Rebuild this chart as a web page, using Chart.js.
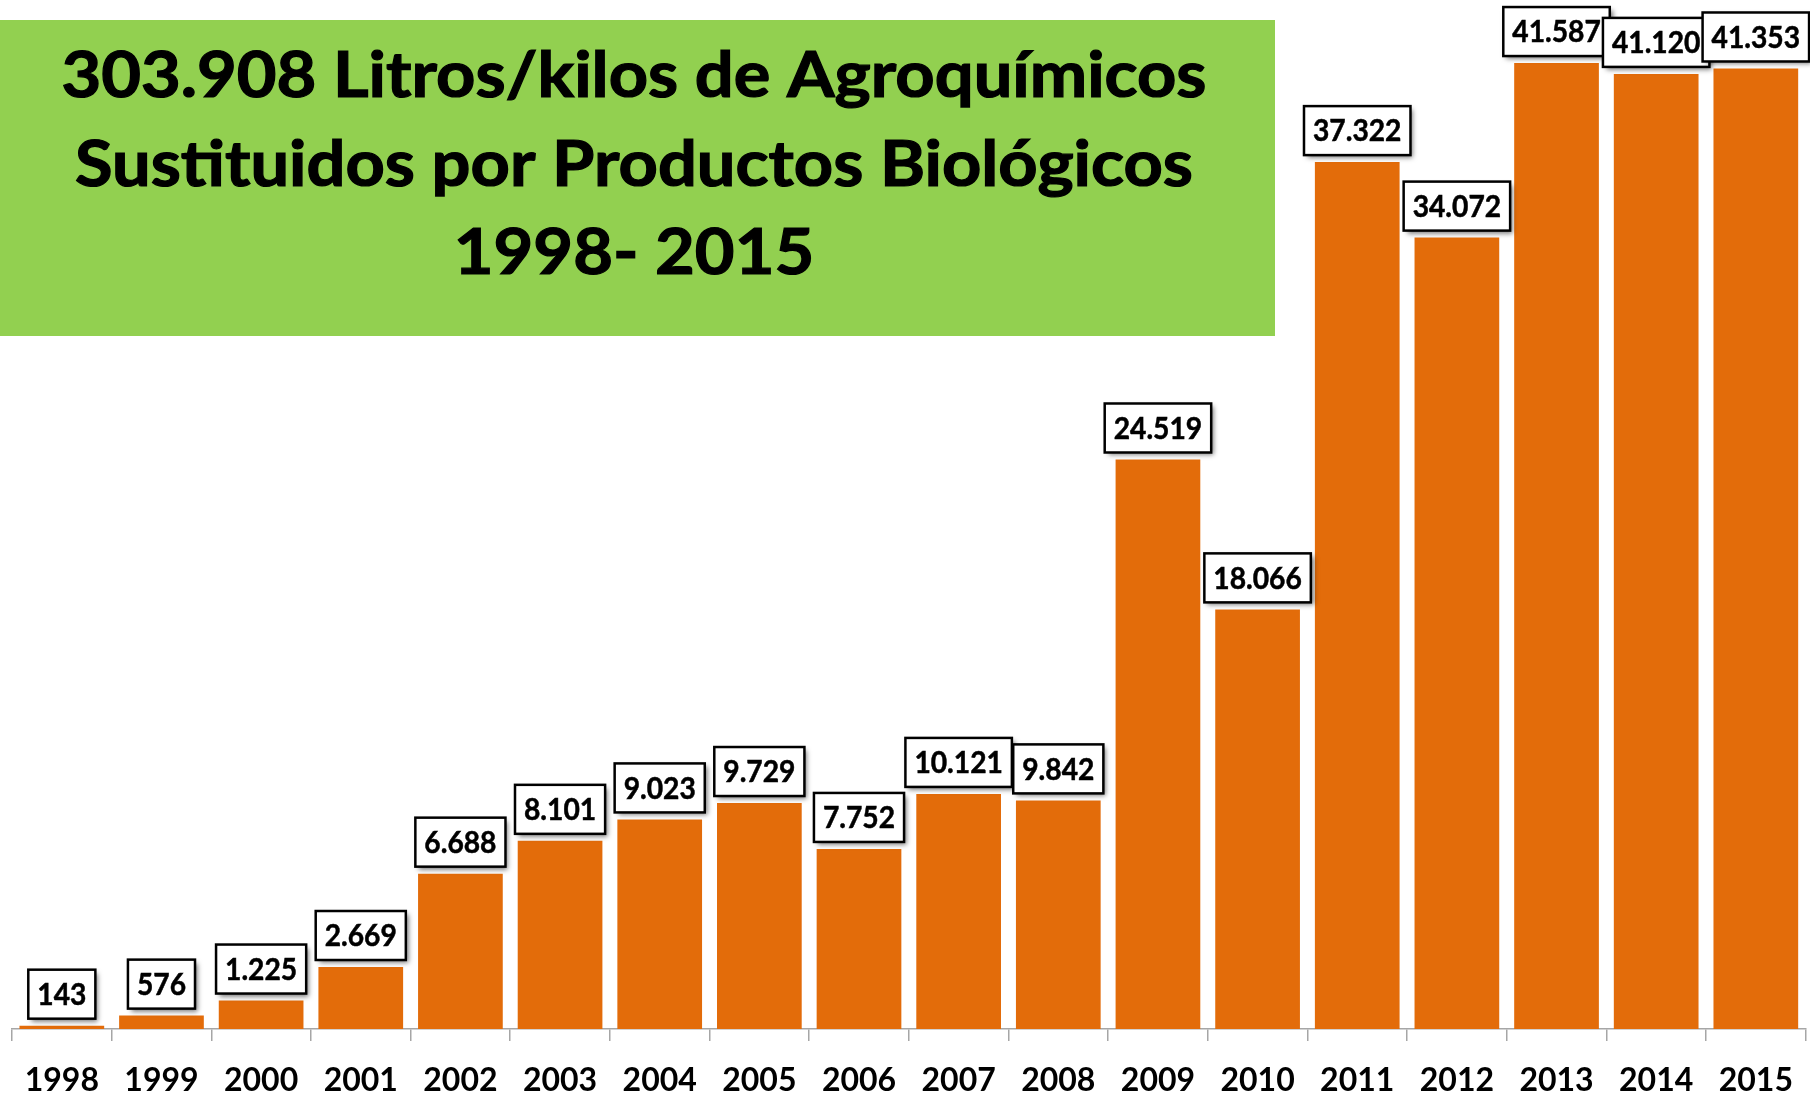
<!DOCTYPE html>
<html lang="es">
<head>
<meta charset="utf-8">
<title>Agroquímicos sustituidos por productos biológicos 1998-2015</title>
<script src="https://cdn.jsdelivr.net/npm/chart.js@4.4.1/dist/chart.umd.min.js"></script>
<style>
  html, body { margin: 0; padding: 0; background: #ffffff; overflow: hidden; }
  #wrap { width: 1817px; height: 1121px; position: relative; }
</style>
</head>
<body>
<div id="wrap"><canvas id="bioChart"></canvas></div>
<script>
// Años y litros/kilos sustituidos por año
const years = ['1998', '1999', '2000', '2001', '2002', '2003', '2004', '2005', '2006',
               '2007', '2008', '2009', '2010', '2011', '2012', '2013', '2014', '2015'];
const litros = [143, 576, 1225, 2669, 6688, 8101, 9023, 9729, 7752,
                10121, 9842, 24519, 18066, 37322, 34072, 41587, 41120, 41353];
const titleLines = ['303.908 Litros/kilos de Agroquímicos',
                    'Sustituidos por Productos Biológicos',
                    '1998- 2015'];

const BAR_COLOR = '#E36C0A';
const BOX_GREEN = '#92D050';

// 41587 -> "41.587"
function fmtMiles(n) {
    return String(n).replace(/\B(?=(\d{3})+(?!\d))/g, '.');
}

// etiquetas de valor en cajas blancas sobre cada barra
const valueBoxes = {
    id: 'valueBoxes',
    afterDatasetsDraw(chart) {
        const ctx = chart.ctx;
        const meta = chart.getDatasetMeta(0);
        const sx = 0.94;
        ctx.save();
        ctx.font = 'bold 30px Lato';
        ctx.textAlign = 'center';
        ctx.textBaseline = 'middle';
        meta.data.forEach((bar, i) => {
            const txt = fmtMiles(litros[i]);
            const w = ctx.measureText(txt).width * sx + 18;
            const h = 49;
            const x = bar.x - w / 2;
            const y = bar.y - 7 - h;
            ctx.save();
            ctx.shadowColor = 'rgba(0,0,0,0.55)';
            ctx.shadowBlur = 5;
            ctx.shadowOffsetX = 3;
            ctx.shadowOffsetY = 3;
            ctx.fillStyle = '#ffffff';
            ctx.fillRect(x, y, w, h);
            ctx.restore();
            ctx.lineWidth = 2.5;
            ctx.strokeStyle = '#000000';
            ctx.strokeRect(x, y, w, h);
            ctx.save();
            ctx.translate(bar.x, y + h / 2 + 1);
            ctx.scale(sx, 1);
            ctx.fillStyle = '#000000';
            ctx.strokeStyle = '#000000';
            ctx.lineWidth = 0.5;
            ctx.fillText(txt, 0, 0);
            ctx.strokeText(txt, 0, 0);
            ctx.restore();
        });
        ctx.restore();
    }
};

// recuadro verde con el título
const titleBox = {
    id: 'titleBox',
    afterDraw(chart) {
        const ctx = chart.ctx;
        ctx.save();
        ctx.fillStyle = BOX_GREEN;
        ctx.fillRect(0, 20, 1275, 316);
        ctx.font = 'bold 64px Lato';
        ctx.fillStyle = '#000000';
        ctx.strokeStyle = '#000000';
        ctx.lineWidth = 1.2;
        ctx.textAlign = 'center';
        ctx.textBaseline = 'middle';
        const sx = 1145 / ctx.measureText(titleLines[0]).width;
        const ys = [76, 165, 253];
        titleLines.forEach((line, i) => {
            ctx.save();
            ctx.translate(634, ys[i]);
            ctx.scale(sx, 1);
            ctx.fillText(line, 0, 0);
            ctx.strokeText(line, 0, 0);
            ctx.restore();
        });
        ctx.restore();
    }
};

new Chart(document.getElementById('bioChart'), {
    type: 'bar',
    data: {
        labels: years,
        datasets: [{
            data: litros,
            backgroundColor: BAR_COLOR,
            borderWidth: 0,
            categoryPercentage: 1.0,
            barPercentage: 0.85
        }]
    },
    options: {
        responsive: true,
        maintainAspectRatio: false,
        animation: false,
        layout: { padding: { left: 12, right: 2, top: 7, bottom: 0 } },
        plugins: {
            legend: { display: false },
            tooltip: { enabled: false },
            title: { display: false }
        },
        scales: {
            x: {
                offset: true,
                grid: {
                    offset: true,
                    drawOnChartArea: false,
                    drawTicks: true,
                    tickLength: 12,
                    color: '#a6a6a6',
                    lineWidth: 1.5
                },
                border: { display: true, color: '#a6a6a6', width: 1.5 },
                ticks: {
                    color: '#000000',
                    padding: 24,
                    maxRotation: 0,
                    autoSkip: false,
                    font: { family: 'Lato', weight: 'bold', size: 32, lineHeight: 1.0 }
                }
            },
            y: {
                display: false,
                min: 0,
                max: 44000
            }
        }
    },
    plugins: [valueBoxes, titleBox]
});
</script>
</body>
</html>
